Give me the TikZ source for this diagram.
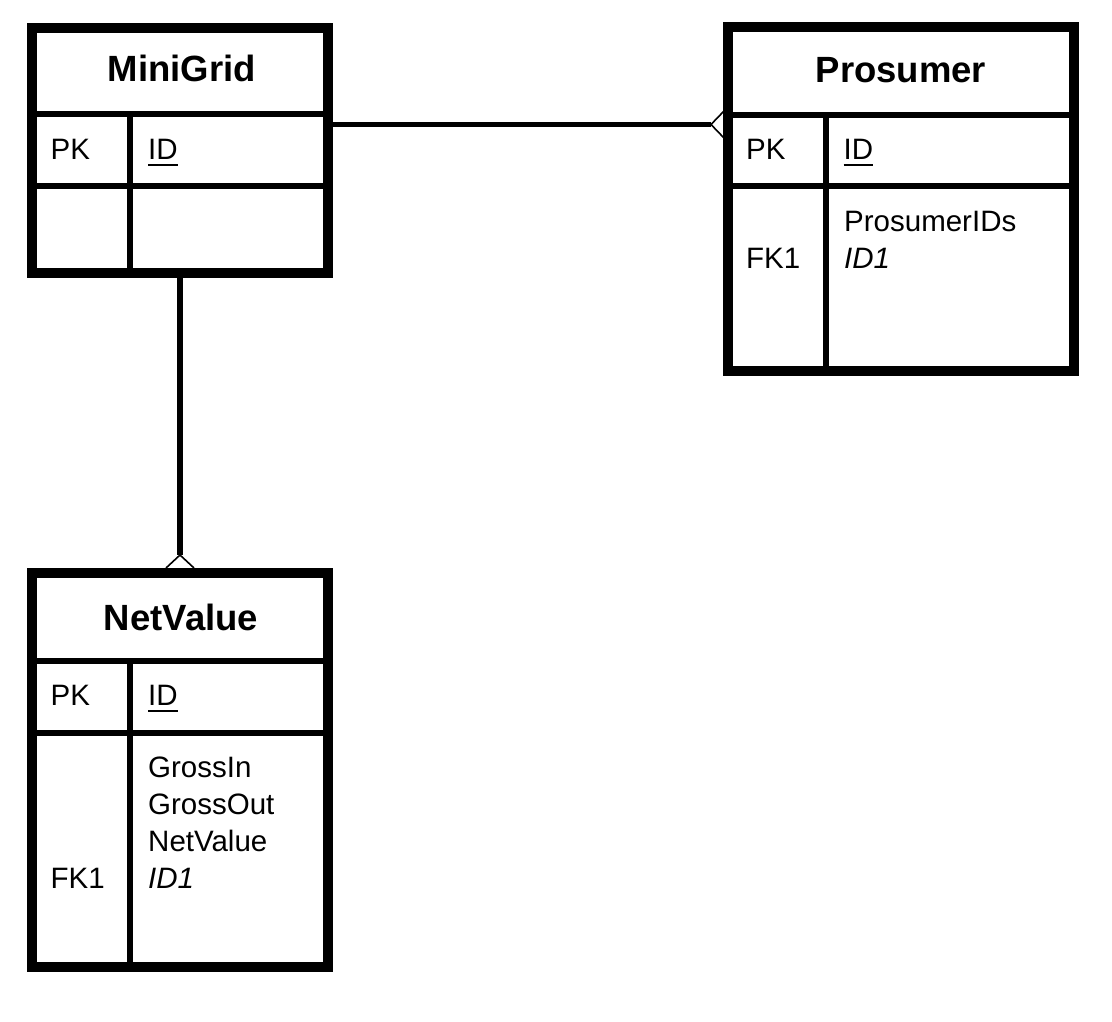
\documentclass[tikz,border=0pt]{standalone}
\usepackage{fontspec}
\setmainfont{Liberation Sans}
\begin{document}
\begin{tikzpicture}[x=1pt,y=-1pt,
  tbl/.style={draw, line width=9.5pt, inner sep=0pt, fill=white},
  sepline/.style={line width=5.5pt},
  link/.style={line width=5.5pt},
  crow/.style={line width=1.6pt},
  ttl/.style={font=\fontsize{36.5}{44}\selectfont\bfseries, inner sep=0pt, anchor=base},
  cell/.style={font=\fontsize{29.5}{37}\selectfont, inner sep=0pt, anchor=base west},
  uline/.style={line width=2pt}
]
\useasboundingbox (0,0) rectangle (1112,1022);
\fill[white] (0,0) rectangle (1112,1022);

% MiniGrid
\node[tbl, minimum width=296pt, minimum height=245pt] (mg) at (180,150.5) {};
\draw[sepline] (32,114) -- (328,114);
\draw[sepline] (32,186) -- (328,186);
\draw[sepline] (130,114) -- (130,273);
\node[ttl] (mgt) at (182,82) {MiniGrid};
\node[cell] (mgpk) at (50.5,159.5) {PK};
\node[cell] (mgid) at (148,159.5) {ID};
\draw[uline] ([yshift=-5.5pt]mgid.base west) -- ([yshift=-5.5pt]mgid.base east);

% Prosumer
\node[tbl, minimum width=346pt, minimum height=344pt] (pr) at (901,199) {};
\draw[sepline] (728,115) -- (1074,115);
\draw[sepline] (728,186) -- (1074,186);
\draw[sepline] (826,115) -- (826,371);
\node[ttl] (prt) at (901,83) {Prosumer};
\node[cell] (prpk) at (746,160) {PK};
\node[cell] (prid) at (843.5,160) {ID};
\draw[uline] ([yshift=-5.5pt]prid.base west) -- ([yshift=-5.5pt]prid.base east);
\node[cell] (pra1) at (844,231) {ProsumerIDs};
\node[cell] (pra2) at (844,268) {\itshape ID1};
\node[cell] (prfk) at (746,268) {FK1};

% NetValue
\node[tbl, minimum width=296pt, minimum height=394pt] (nv) at (180,770) {};
\draw[sepline] (32,661) -- (328,661);
\draw[sepline] (32,733) -- (328,733);
\draw[sepline] (130,661) -- (130,967);
\node[ttl] (nvt) at (181,630) {NetValue};
\node[cell] (nvpk) at (50.5,705) {PK};
\node[cell] (nvid) at (148,705) {ID};
\draw[uline] ([yshift=-5.5pt]nvid.base west) -- ([yshift=-5.5pt]nvid.base east);
\node[cell] (nva1) at (148,777) {GrossIn};
\node[cell] (nva2) at (148,814) {GrossOut};
\node[cell] (nva3) at (148,851) {NetValue};
\node[cell] (nva4) at (148,888) {\itshape ID1};
\node[cell] (nvfk) at (50.5,888) {FK1};

% MiniGrid -- Prosumer (many)
\coordinate (a1) at (711,124.5);
\coordinate (a1u) at (724,111);
\coordinate (a1d) at (724,138);
\draw[link] (mg.east |- a1) -- (a1);
\draw[crow] (a1u) -- (a1) -- (a1d);

% MiniGrid -- NetValue (many)
\coordinate (a2) at (180,555);
\coordinate (a2l) at (166,568);
\coordinate (a2r) at (194,568);
\draw[link] (mg.south) -- (a2);
\draw[crow] (a2l) -- (a2) -- (a2r);
\end{tikzpicture}
\end{document}
